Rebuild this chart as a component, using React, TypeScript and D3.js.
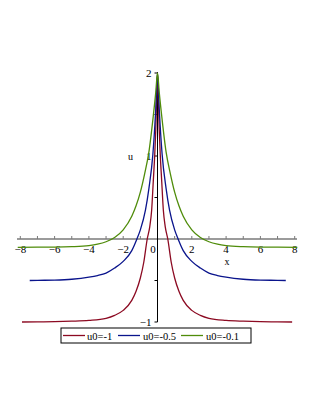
import React from "react";
import * as d3 from "d3";

const xRed = [-7.9, -7, -6, -5, -4, -3, -2.5, -2, -1.5, -1.25, -1, -0.8, -0.6, -0.45, -0.34, -0.25, -0.16, -0.1, 0, 0.1, 0.16, 0.25, 0.34, 0.45, 0.6, 0.8, 1, 1.25, 1.5, 2, 2.5, 3, 4, 5, 6, 7, 7.85];
const uRed = [-1.0, -0.998, -0.996, -0.99, -0.98, -0.955, -0.92, -0.86, -0.74, -0.63, -0.47, -0.28, 0.0, 0.15, 0.35, 0.68, 1.02, 1.32, 2.0, 1.32, 1.02, 0.68, 0.35, 0.15, 0.0, -0.28, -0.47, -0.63, -0.74, -0.86, -0.92, -0.955, -0.98, -0.99, -0.996, -0.998, -1.0];

const xBlue = [-7.45, -7, -6, -5, -4, -3.5, -3, -2.5, -2, -1.5, -1.2, -1, -0.7, -0.5, -0.27, -0.1, 0, 0.1, 0.27, 0.5, 0.7, 1, 1.2, 1.5, 2, 2.5, 3, 3.5, 4, 5, 6, 7, 7.48];
const uBlue = [-0.5, -0.498, -0.495, -0.485, -0.46, -0.44, -0.41, -0.35, -0.27, -0.14, 0.0, 0.11, 0.35, 0.61, 1.02, 1.57, 2.0, 1.57, 1.02, 0.61, 0.35, 0.11, 0.0, -0.14, -0.27, -0.35, -0.41, -0.44, -0.46, -0.485, -0.495, -0.498, -0.5];

const xGreen = [-8.15, -7, -6, -5, -4, -3.5, -3, -2.5, -2, -1.5, -1.25, -1, -0.75, -0.5, -0.25, -0.1, 0, 0.1, 0.25, 0.5, 0.75, 1, 1.25, 1.5, 2, 2.5, 3, 3.5, 4, 5, 6, 7, 8.15];
const uGreen = [-0.1, -0.099, -0.098, -0.093, -0.079, -0.062, -0.033, 0.018, 0.11, 0.274, 0.4, 0.565, 0.786, 1.05, 1.475, 1.77, 2.0, 1.77, 1.475, 1.05, 0.786, 0.565, 0.4, 0.274, 0.11, 0.018, -0.033, -0.062, -0.079, -0.093, -0.098, -0.099, -0.1];

const seriesNames = ["u0=-1", "u0=-0.5", "u0=-0.1"];
const seriesColors = ["#8c0a22", "#0a148c", "#4f8c0a"];

const xTickLabels = [-8, -6, -4, -2, 0, 2, 4, 6, 8];
const xMinorTicks = [-8, -7, -6, -5, -4, -3, -2, -1, 1, 2, 3, 4, 5, 6, 7, 8];
const yTicks = [-1, -0.5, 0.5, 1, 1.5, 2];
const yTickLabels = [-1, 1, 2];

const fmt = (v: number) => (v < 0 ? "\u2212" + Math.abs(v) : String(v));

export default function App() {
  const x = d3.scaleLinear().domain([-8, 8]).range([20.3, 294.7]);
  const y = d3.scaleLinear().domain([-1, 2]).range([322, 73]);
  const line = d3
    .line<[number, number]>()
    .x((d) => x(d[0]))
    .y((d) => y(d[1]))
    .curve(d3.curveMonotoneX);
  const data: [number, number][][] = [
    xRed.map((v, i) => [v, uRed[i]]),
    xBlue.map((v, i) => [v, uBlue[i]]),
    xGreen.map((v, i) => [v, uGreen[i]]),
  ];
  const font = "'Liberation Serif', 'Times New Roman', serif";
  const legendX = [63, 118, 181];
  const legendTextX = [87, 143, 206];
  return (
    <svg
      width={321}
      height={415}
      style={{ position: "absolute", left: 0, top: 0, background: "#fff" }}
      fontFamily={font}
    >
      {/* x axis */}
      <line x1={17} x2={297} y1={y(0)} y2={y(0)} stroke="#7a7a7a" strokeWidth={1.5} />
      {xMinorTicks.map((t) => (
        <line key={t} x1={x(t)} x2={x(t)} y1={y(0)} y2={y(0) - 3} stroke="#7a7a7a" strokeWidth={1} />
      ))}
      {xTickLabels.map((t) => (
        <text
          key={t}
          x={t === 0 ? x(0) - 4.5 : x(t)}
          y={253}
          fontSize={11}
          textAnchor="middle"
          fill="#000"
        >
          {fmt(t)}
        </text>
      ))}
      {/* y axis */}
      <line x1={x(0)} x2={x(0)} y1={y(2) - 1} y2={y(-1)} stroke="#000" strokeWidth={1} />
      {yTicks.map((t) => (
        <line key={t} x1={x(0) - 3} x2={x(0)} y1={y(t)} y2={y(t)} stroke="#000" strokeWidth={1} />
      ))}
      {yTickLabels.map((t) => (
        <text key={t} x={x(0) - 6} y={y(t) + 4} fontSize={11} textAnchor="end" fill="#000">
          {fmt(t)}
        </text>
      ))}
      <text x={130.5} y={160} fontSize={10} textAnchor="middle">u</text>
      <text x={227} y={265} fontSize={10} textAnchor="middle">x</text>
      {/* curves */}
      {data.map((d, i) => (
        <path key={i} d={line(d) || ""} fill="none" stroke={seriesColors[i]} strokeWidth={1.3} />
      ))}
      {/* legend */}
      <rect x={61} y={328} width={190} height={15} fill="#fff" stroke="#000" strokeWidth={1} />
      {seriesNames.map((n, i) => (
        <g key={n}>
          <line x1={legendX[i]} x2={legendX[i] + 22} y1={335.5} y2={335.5} stroke={seriesColors[i]} strokeWidth={1.3} />
          <text x={legendTextX[i]} y={339.5} fontSize={10.5}>{n}</text>
        </g>
      ))}
    </svg>
  );
}
